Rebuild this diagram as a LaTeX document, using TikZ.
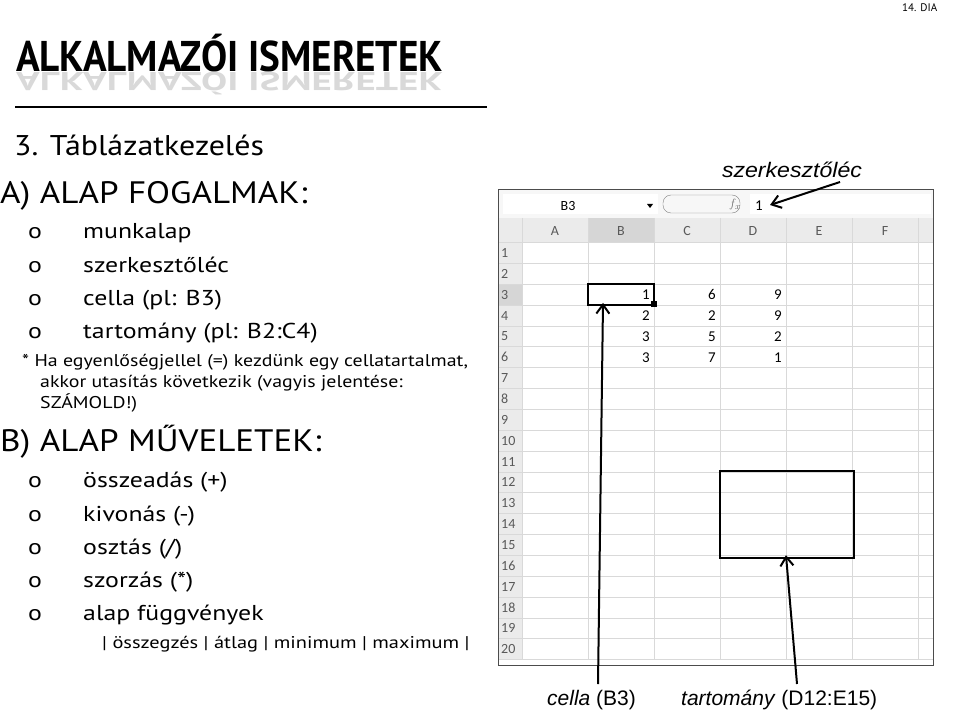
\documentclass[tikz,border=0pt]{standalone}
\usepackage{fontspec}
\usetikzlibrary{arrows.meta}
\setmainfont{PT Sans}
\newfontfamily\sheetfont{Carlito}
\newfontfamily\labfont{Liberation Sans}
\begin{document}
\begin{tikzpicture}[x=1pt,y=-1pt,
  txt/.style={anchor=base west,inner sep=0pt},
  bul/.style={txt,font=\fontsize{21.5}{21.5}\selectfont,xscale=1.2},
  head/.style={txt,font=\fontsize{31}{31}\selectfont,xscale=1.13},
  grid/.style={draw=black!15,line width=0.6pt},
  hdr/.style={font=\sheetfont\fontsize{14}{14}\selectfont,text=black!65},
  num/.style={anchor=east,font=\sheetfont\fontsize{15}{15}\selectfont,inner sep=0pt},
  arr/.style={-{Straight Barb[length=9pt,width=13pt,line width=2pt]},line width=2pt}]
\useasboundingbox (0,0) rectangle (960,711);
% header
\node[anchor=west,inner sep=0pt,font=\fontsize{11}{11}\selectfont] (dia) at (902,8) {14. DIA};
\node[txt,font=\bfseries\fontsize{43}{43}\selectfont,xscale=0.91] (title) at (16,72) {ALKALMAZÓI ISMERETEK};
\node[txt,font=\bfseries\fontsize{43}{43}\selectfont,xscale=0.91,yscale=-0.6,text=black!15] (refl) at (16,73) {ALKALMAZÓI ISMERETEK};
\coordinate (ul1) at (15,107); \coordinate (ul2) at (487,107);
\draw[line width=1.5pt] (ul1) -- (ul2);
% left text
\node[txt,font=\fontsize{28.5}{28.5}\selectfont,xscale=1.12] (t3) at (14,156) {3. Táblázatkezelés};
\node[head] (ta) at (0,204) {A) ALAP FOGALMAK:};
\foreach \y/\t in {239/munkalap,272/szerkesztőléc,305/{cella (pl: B3)},338/{tartomány (pl: B2:C4)}}{
  \node[bul] at (28,\y) {o}; \node[bul] at (83,\y) {\t};}
\node[txt,font=\fontsize{17}{17}\selectfont,xscale=1.17] (n1) at (22,366) {* Ha egyenlőségjellel (=) kezdünk egy cellatartalmat,};
\node[txt,font=\fontsize{17}{17}\selectfont,xscale=1.17] (n2) at (40,387) {akkor utasítás következik (vagyis jelentése:};
\node[txt,font=\fontsize{17}{17}\selectfont,xscale=1.17] (n3) at (40,408) {SZÁMOLD!)};
\node[head] (tb) at (0,451) {B) ALAP MŰVELETEK:};
\foreach \y/\t in {487/{összeadás (+)},521/{kivonás (-)},554/{osztás (/)},587/{szorzás (*)},620/{alap függvények}}{
  \node[bul] at (28,\y) {o}; \node[bul] at (83,\y) {\t};}
\node[txt,font=\fontsize{17}{17}\selectfont,xscale=1.2] (fv) at (102,648) {| összegzés | átlag | minimum | maximum |};
% spreadsheet
\fill[black!3] (498,190) rectangle (933,218);
\fill[white] (503,194) rectangle (658,214);
\fill[white] (750,194) rectangle (931,214);
\draw[black!50,rounded corners=8pt] (663,195) rectangle (740,213);
\node[hdr,text=black] (nb) at (568,206) {B3};
\fill (647,204) -- (653,204) -- (650,208) -- cycle;
\node[font=\itshape\fontsize{13}{13}\selectfont,text=black!60] (fx) at (735,205) {$f_x$};
\node[anchor=west,inner sep=0pt,font=\sheetfont\fontsize{15}{15}\selectfont] (fb) at (755,206) {1};
\fill[black!8] (498,218) rectangle (933,242);
\fill[black!8] (498,242) rectangle (522,660);
\fill[black!16] (588,218) rectangle (654,242);
\fill[black!16] (498,284) rectangle (522,305);
\foreach \i in {0,...,20}{\draw[grid] (498,{242.5+\i*20.85}) -- (933,{242.5+\i*20.85});}
\foreach \x in {522,588,654,720,786,852,918}{\draw[grid] (\x,218) -- (\x,660);}
\foreach \c/\x in {A/555,B/621,C/687,D/753,E/819,F/885}{\node[hdr] at (\x,231) {\c};}
\foreach \i in {1,...,20}{\node[hdr,anchor=west,inner sep=0pt] at (501,{253+(\i-1)*20.85}) {\i};}
\foreach \r/\b/\c/\d in {3/1/6/9,4/2/2/9,5/3/5/2,6/3/7/1}{
  \node[num] at (650,{253+(\r-1)*20.85}) {\b};
  \node[num] at (716,{253+(\r-1)*20.85}) {\c};
  \node[num] at (782,{253+(\r-1)*20.85}) {\d};}
\draw[black!70,line width=1pt] (498,190) rectangle (933,665);
\node[draw,line width=2.4pt,minimum width=66pt,minimum height=21pt,inner sep=0pt] (cell) at (621,294.2) {};
\fill (651,301) rectangle (657,307);
\node[draw,line width=2.4pt,minimum width=134pt,minimum height=87pt,inner sep=0pt] (range) at (787,514.5) {};
% labels and arrows
\node[font=\labfont\itshape\fontsize{21}{21}\selectfont,xscale=1.1] (lszk) at (792,170) {szerkesztőléc};
\node[anchor=base west,inner sep=0pt] (lcel) at (547,705) {\labfont\fontsize{21}{21}\selectfont\textit{cella} (B3)};
\node[anchor=base west,inner sep=0pt] (ltar) at (681,705) {\labfont\fontsize{21}{21}\selectfont\textit{tartomány} (D12:E15)};
\coordinate (a1) at (598,684); \coordinate (a2) at (797,684); \coordinate (a3) at (840,182);
\draw[arr] (a1) -- ([xshift=-18pt,yshift=3pt]cell.south);
\draw[arr] (a2) -- ([xshift=-1pt,yshift=4pt]range.south);
\draw[arr] (a3) -- (770,205);
\end{tikzpicture}
\end{document}
